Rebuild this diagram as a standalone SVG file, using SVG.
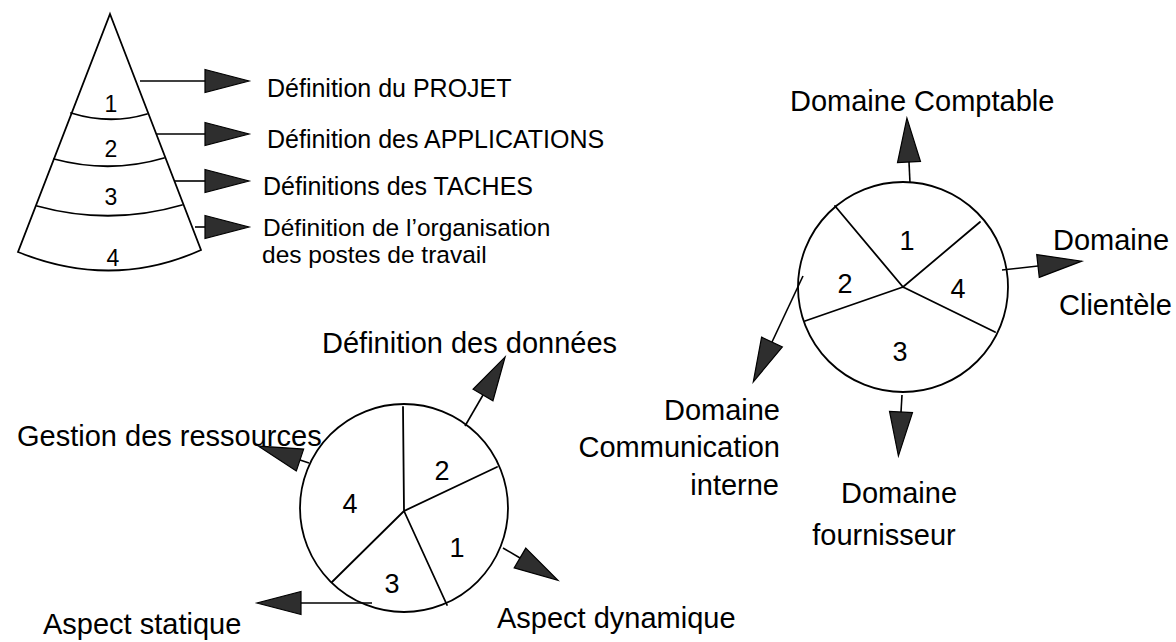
<svg xmlns="http://www.w3.org/2000/svg" width="1176" height="642" viewBox="0 0 1176 642">
<style>
.s{fill:none;stroke:#000;stroke-width:1.8;stroke-linecap:round}
.w{fill:#fff;stroke:#000;stroke-width:1.8}
.t{font-family:"Liberation Sans",Arial,Helvetica,sans-serif;fill:#000}
.l{font-size:25px}
.l2{font-size:24.5px}
.b{font-size:29px}
.d{font-size:23px;text-anchor:middle}
.n{font-size:27px;text-anchor:middle}
.c{stroke:#000;stroke-width:1.6;fill:none;marker-end:url(#ah)}
</style>
<defs>
<marker id="ah" markerUnits="userSpaceOnUse" markerWidth="48" markerHeight="26" viewBox="0 0 48 26" refX="1" refY="13" orient="auto" overflow="visible">
<path d="M1,1.5 L45,13 L1,24.5 Z" fill="#2e2e2e" stroke="#000" stroke-width="1.2" stroke-linejoin="miter"/>
</marker>
</defs>
<rect width="1176" height="642" fill="#fff"/>

<g id="cone">
<path class="w" d="M110,14 L201,250 Q112,290 18,252 Z"/>
<path class="s" d="M71,113 Q110,125 147,114"/>
<path class="s" d="M54,159 Q110,174 164,158"/>
<path class="s" d="M37,206 Q110,226 182,205"/>
<text class="t d" x="111" y="112">1</text>
<text class="t d" x="111" y="157">2</text>
<text class="t d" x="111" y="205">3</text>
<text class="t d" x="113" y="266">4</text>
</g>

<g id="pie-domaines">
<circle class="w" cx="903" cy="287" r="105"/>
<path class="s" d="M835,206 L903,287 L980,222 M903,287 L995,332 M903,287 L805,321"/>
<text class="t n" x="907" y="250">1</text>
<text class="t n" x="845" y="293">2</text>
<text class="t n" x="958" y="298">4</text>
<text class="t n" x="900" y="361">3</text>
</g>

<g id="pie-aspects">
<circle class="w" cx="404" cy="508" r="104"/>
<path class="s" d="M403,407 L404,511 L497,467 M404,511 L447,605 M404,511 L332,582"/>
<text class="t n" x="442" y="480">2</text>
<text class="t n" x="350" y="513">4</text>
<text class="t n" x="457" y="557">1</text>
<text class="t n" x="392" y="593">3</text>
</g>

<g id="connectors">
<line class="c" x1="140" y1="81" x2="205" y2="81"/>
<line class="c" x1="157" y1="134" x2="205" y2="134"/>
<line class="c" x1="175" y1="181" x2="205" y2="181"/>
<line class="c" x1="195" y1="227" x2="205" y2="227"/>
<line class="c" x1="910" y1="183" x2="909" y2="162"/>
<line class="c" x1="1002" y1="270" x2="1038" y2="266"/>
<line class="c" x1="803" y1="276" x2="772" y2="342"/>
<line class="c" x1="902" y1="395" x2="901" y2="412"/>
<line class="c" x1="465" y1="426" x2="483" y2="395"/>
<line class="c" x1="309" y1="463" x2="300" y2="460"/>
<line class="c" x1="372" y1="603" x2="301" y2="603"/>
<line class="c" x1="503" y1="548" x2="520" y2="558"/>
</g>

<g id="label-projet"><text class="t l" x="267" y="97">Définition du PROJET</text></g>
<g id="label-applications"><text class="t l" x="267" y="148">Définition des APPLICATIONS</text></g>
<g id="label-taches"><text class="t l" x="263" y="195">Définitions des TACHES</text></g>
<g id="label-organisation"><text class="t l2" x="263" y="236">Définition de l’organisation</text><text class="t l2" x="262" y="263">des postes de travail</text></g>

<g id="label-comptable"><text class="t b" x="790" y="111">Domaine Comptable</text></g>
<g id="label-clientele"><text class="t b" x="1053" y="250">Domaine</text><text class="t b" x="1059" y="315">Clientèle</text></g>
<g id="label-communication"><text class="t b" text-anchor="end" x="780" y="420">Domaine</text><text class="t b" text-anchor="end" x="780" y="457">Communication</text><text class="t b" text-anchor="end" x="779" y="495">interne</text></g>
<g id="label-fournisseur"><text class="t b" text-anchor="middle" x="899" y="503">Domaine</text><text class="t b" text-anchor="middle" x="884" y="545">fournisseur</text></g>

<g id="label-donnees"><text class="t b" x="322" y="353">Définition des données</text></g>
<g id="label-ressources"><text class="t b" x="17" y="446">Gestion des ressources</text></g>
<g id="label-statique"><text class="t b" x="43" y="634">Aspect statique</text></g>
<g id="label-dynamique"><text class="t b" x="497" y="628">Aspect dynamique</text></g>
</svg>
